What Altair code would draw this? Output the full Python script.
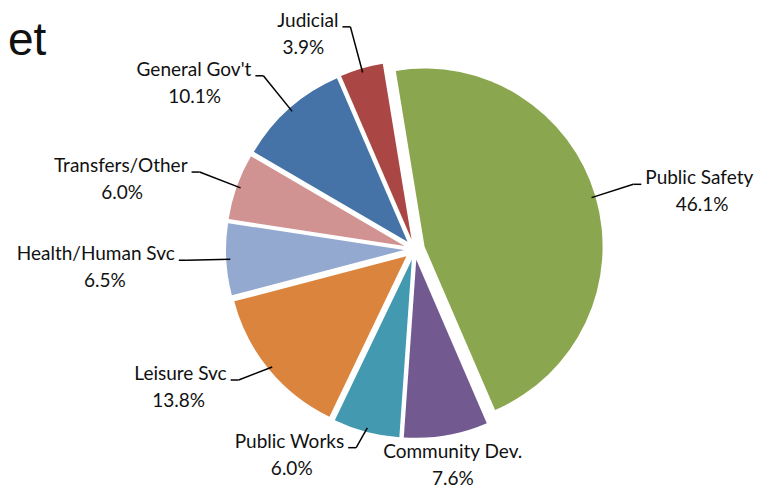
import math
import altair as alt
import pandas as pd

# ---- data ----
categories = ["Public Safety", "Community Dev.", "Public Works", "Leisure Svc",
              "Health/Human Svc", "Transfers/Other", "General Gov't", "Judicial"]
shares = [46.1, 7.6, 6.0, 13.8, 6.5, 6.0, 10.1, 3.9]
colors = ["#8AA64E", "#72598F", "#4299B0", "#DB843D",
          "#93A9D0", "#D19392", "#4573A7", "#AA4643"]

df = pd.DataFrame({"category": categories, "share": shares,
                   "order": list(range(len(categories)))})

# ---- layout constants (chart pixel space) ----
W, H = 756, 482
CX, CY = 406.5, 241.5
R = 178
EXPLODE = 10.5
START = math.radians(-9.3)
LRX, LRY_TOP, LRY_BOT = 228, 232, 205
SEG, GAP = 8, 4
FONT = "Lato"
FS = 19

base = alt.Chart(df).transform_window(
    cum="sum(share)", sort=[alt.SortField("order")], frame=[None, 0]
).transform_joinaggregate(total="sum(share)").transform_calculate(
    t0=f"{START} + 2*PI*(datum.cum - datum.share)/datum.total",
    t1=f"{START} + 2*PI*datum.cum/datum.total",
).transform_calculate(
    mid="(datum.t0 + datum.t1)/2"
).transform_calculate(
    vx=f"{CX} + {EXPLODE}*sin(datum.mid)",
    vy=f"{CY} - {EXPLODE}*cos(datum.mid)",
    ax=f"{CX} + {LRX}*sin(datum.mid)",
    ay=f"{CY} - (cos(datum.mid) > 0 ? {LRY_TOP} : {LRY_BOT})*cos(datum.mid)",
    side="sin(datum.mid) > 0.2 ? 1 : (sin(datum.mid) < -0.2 ? -1 : 0)",
    pct="format(datum.share, '.1f') + '%'",
    tw=f"length(datum.category) * {FS * 0.46}",
).transform_calculate(
    ex=f"datum.vx + {R - 4}*sin(datum.mid)",
    ey=f"datum.vy - {R - 4}*cos(datum.mid)",
    hx=f"datum.ax + datum.side*{SEG}",
).transform_calculate(
    nx=f"datum.side == 0 ? datum.ax : datum.hx + datum.side*{GAP}",
    nalign="datum.side == 1 ? 'left' : (datum.side == -1 ? 'right' : 'center')",
    ny="datum.side == 0 ? datum.ay : datum.ay - 6",
).transform_calculate(
    px="datum.nx + datum.side*datum.tw/2",
    py="datum.ny + 27",
)

arcs = base.mark_arc(outerRadius=R).encode(
    x=alt.X("vx:Q", scale=None),
    y=alt.Y("vy:Q", scale=None),
    theta=alt.Theta("t0:Q", scale=None),
    theta2=alt.Theta2("t1:Q"),
    color=alt.Color("category:N", scale=alt.Scale(domain=categories, range=colors), legend=None),
)

lines_base = base.transform_filter("datum.side != 0")
leader1 = lines_base.mark_rule(color="black", strokeWidth=1.5).encode(
    x=alt.X("ex:Q", scale=None), y=alt.Y("ey:Q", scale=None),
    x2="ax:Q", y2="ay:Q",
)
leader2 = lines_base.mark_rule(color="black", strokeWidth=1.5).encode(
    x=alt.X("ax:Q", scale=None), y=alt.Y("ay:Q", scale=None),
    x2="hx:Q", y2="ay:Q",
)

names = base.mark_text(font=FONT, fontSize=FS, color="#111111", baseline="middle",
                       align=alt.expr("datum.nalign")).encode(
    x=alt.X("nx:Q", scale=None), y=alt.Y("ny:Q", scale=None), text="category:N",
)
pcts = base.mark_text(font=FONT, fontSize=FS, color="#111111", align="center", baseline="middle").encode(
    x=alt.X("px:Q", scale=None), y=alt.Y("py:Q", scale=None), text="pct:N",
)

title = alt.Chart(pd.DataFrame({"t": ["et"]})).mark_text(
    font="Liberation Sans", fontSize=46, align="left", baseline="alphabetic", color="#111111"
).encode(x=alt.value(0), y=alt.value(47), text="t:N")

chart = alt.layer(arcs, leader1, leader2, names, pcts, title).properties(
    width=W, height=H, padding=0, autosize=alt.AutoSizeParams(type="none")
).configure_view(stroke=None)

chart.save("out.html", embed_options={"renderer": "svg", "actions": False})
